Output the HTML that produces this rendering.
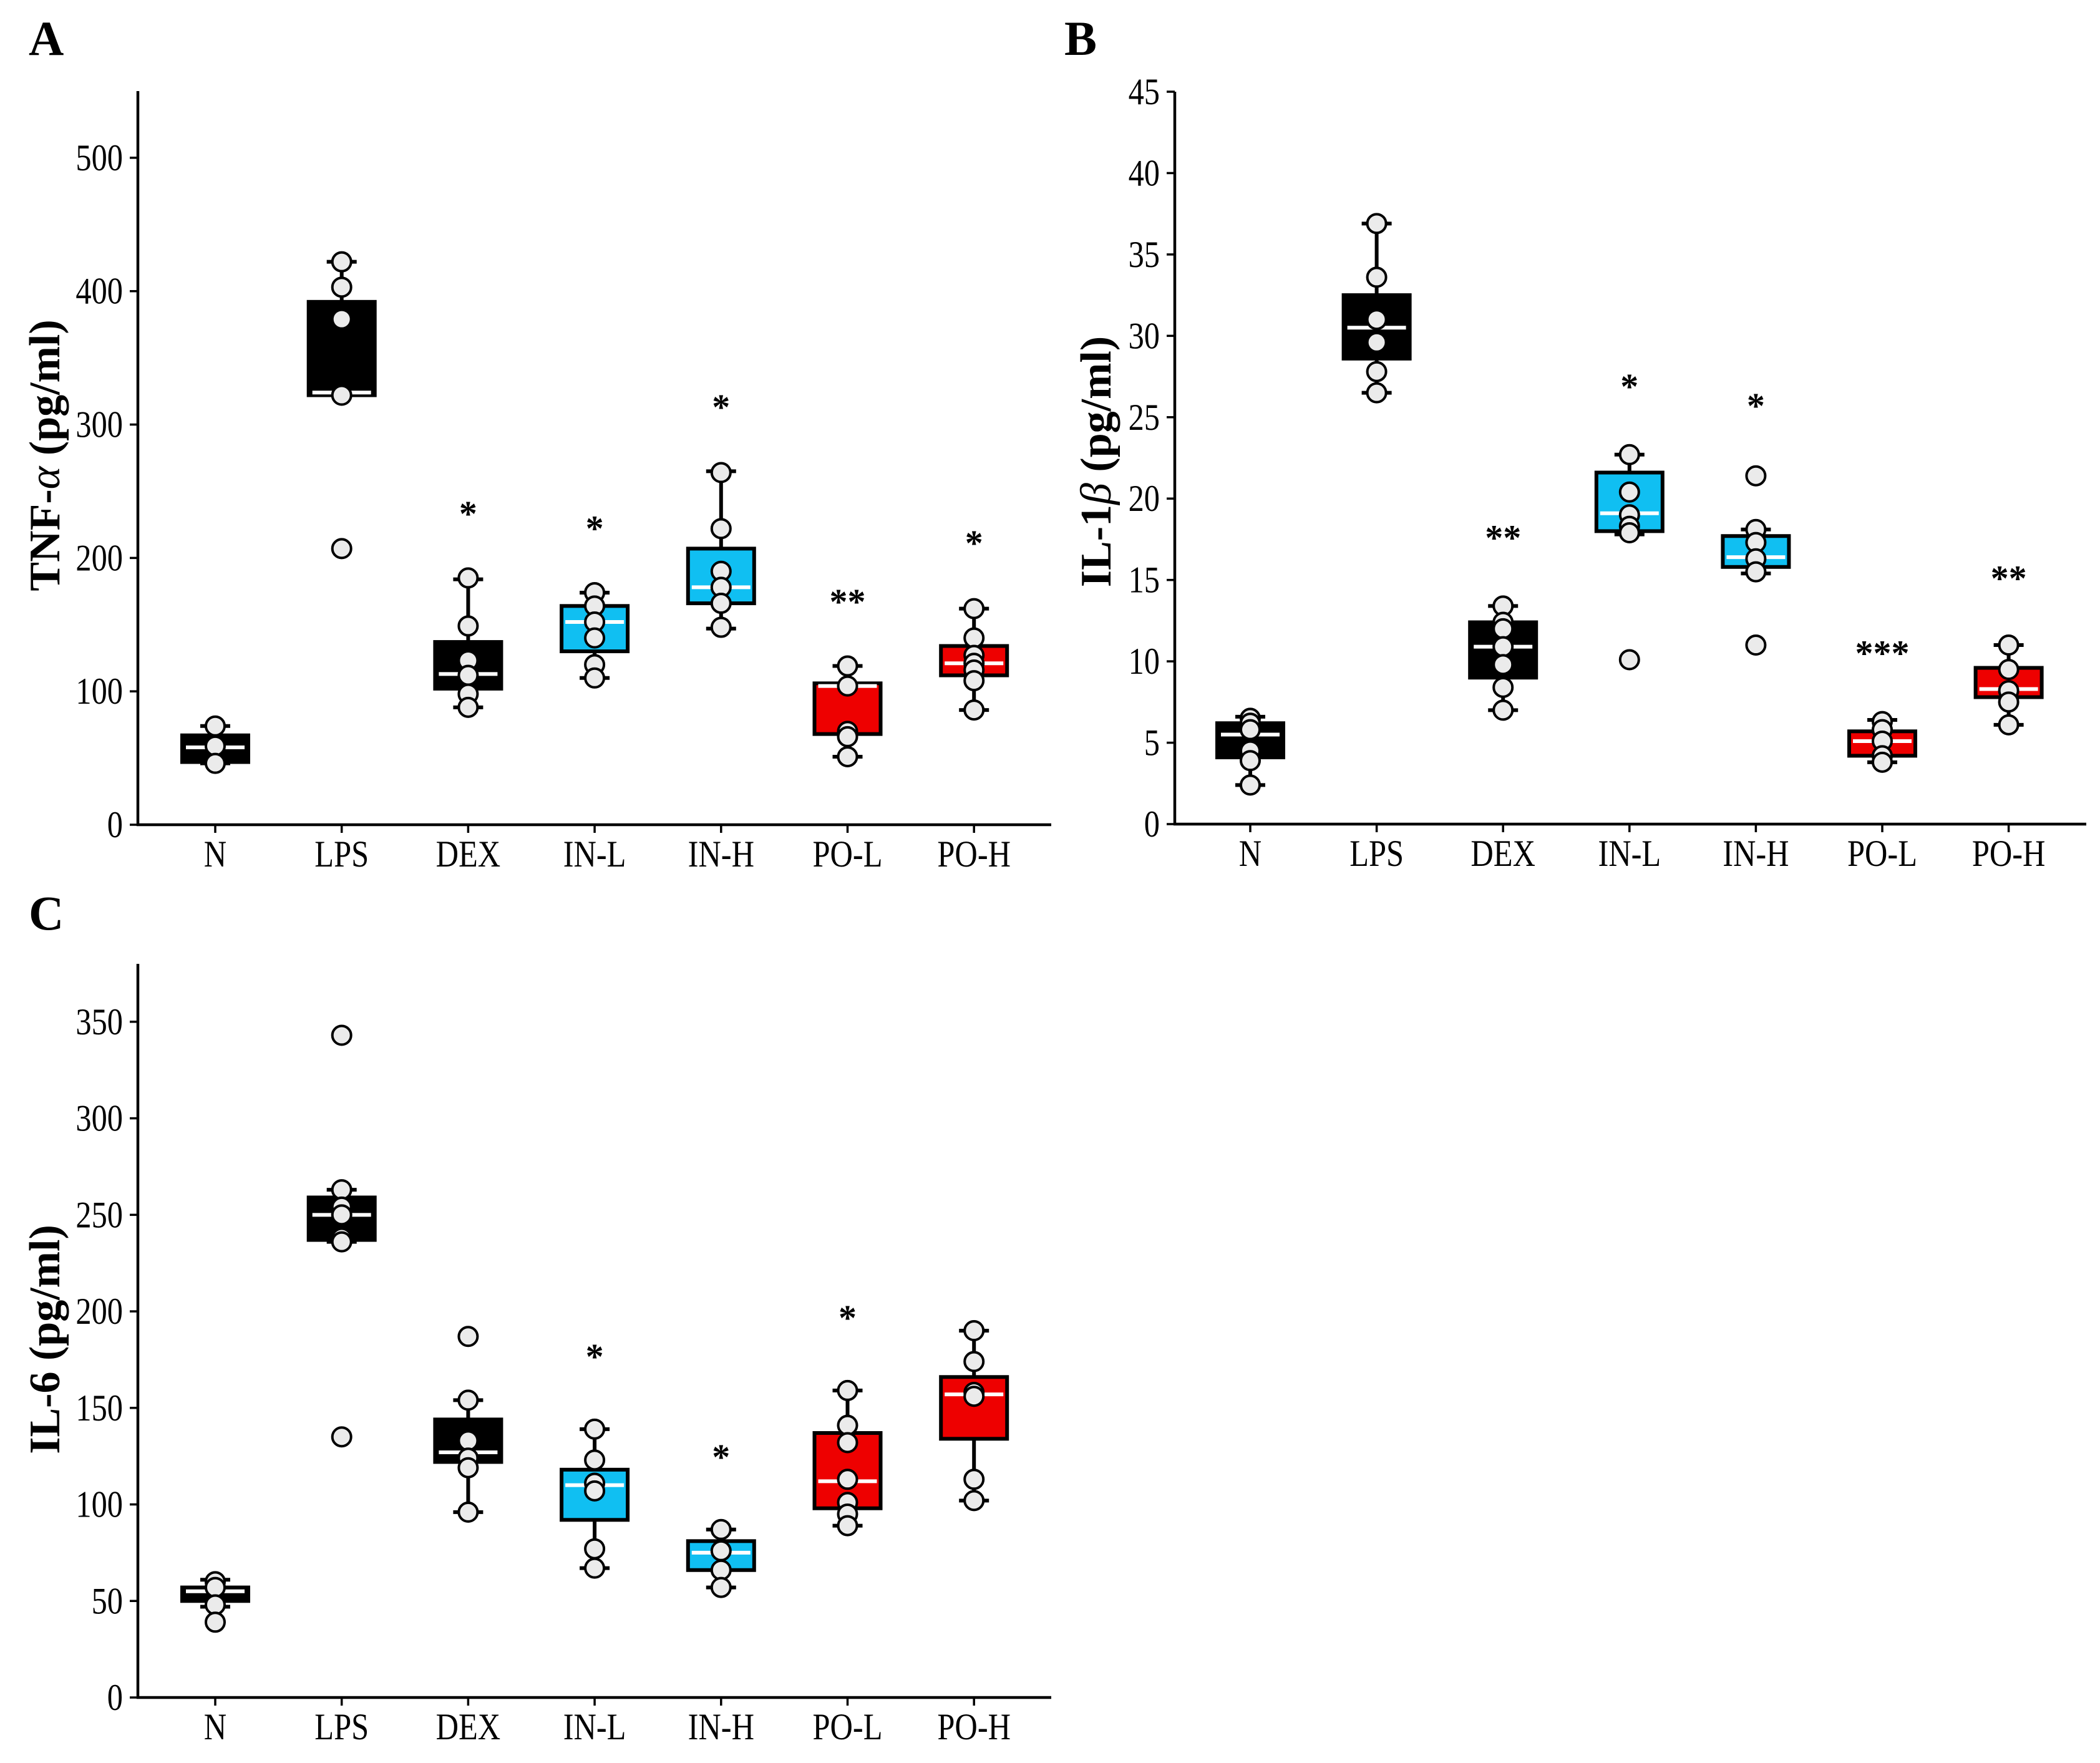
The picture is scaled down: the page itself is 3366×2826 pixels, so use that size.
<!DOCTYPE html>
<html><head><meta charset="utf-8">
<style>
html,body{margin:0;padding:0;background:#fff;}
svg{display:block;}
text{font-family:"Liberation Serif",serif;}
</style></head>
<body>
<svg id="fig" width="3366" height="2826" viewBox="0 0 3366 2826" xmlns="http://www.w3.org/2000/svg"></svg>
<script>
const categories = ["N","LPS","DEX","IN-L","IN-H","PO-L","PO-H"];
const colors = ["#000000","#000000","#000000","#10bff2","#10bff2","#ee0000","#ee0000"];

// Panel A: TNF-alpha  [lo, q1, median, q3, hi]
const tnfBoxes = [[46,47,58,67,74],[322,322,324,392,422],[88,102,113,137,184],[110,130,152,164,174],[147,166,178,207,265],[51,68,104,106,119],[86,112,121,134,162]];
const tnfPoints = [[74,59,46],[422,403,379,322,207],[185,149,123,112,98,88],[174,164,152,140,120,110],[264,222,190,178,166,148],[119,104,70,66,51],[162,140,127,121,116,108,86]];
const tnfStars = ["","","*","*","*","**","*"];
const tnfStarY = [0,0,238,227,318,172,216];
const tnfTicks = [0,100,200,300,400,500];

// Panel B: IL-1beta
const il1Boxes = [[2.4,4.1,5.5,6.2,6.6],[26.5,28.6,30.5,32.5,36.9],[7.0,9.0,10.9,12.4,13.4],[17.8,18.0,19.1,21.6,22.7],[15.4,15.8,16.4,17.7,18.1],[3.8,4.2,5.1,5.7,6.4],[6.1,7.8,8.3,9.6,11.0]];
const il1Points = [[6.5,6.2,5.8,4.5,3.9,2.4],[36.9,33.6,31.0,29.6,27.8,26.5],[13.4,12.4,12.0,10.9,9.8,8.4,7.0],[22.7,20.4,19.0,18.3,17.9,10.1],[21.4,18.1,17.3,16.3,15.5,11.0],[6.3,5.8,5.1,4.2,3.8],[11.0,9.5,8.2,7.5,6.1]];
const il1Stars = ["","","**","*","*","***","**"];
const il1StarY = [0,0,18.0,27.3,26.1,10.9,15.5];
const il1Ticks = [0,5,10,15,20,25,30,35,40,45];

// Panel C: IL-6
const il6Boxes = [[47,50,55,57,61],[236,237,250,259,263],[96,122,127,144,154],[67,92,110,118,139],[57,66,75,81,87],[89,98,112,137,159],[102,134,157,166,190]];
const il6Points = [[60,57,48,39],[343,263,254,250,238,236,135],[187,154,133,124,119,96],[139,123,111,107,77,67],[87,76,66,57],[159,141,132,113,101,95,89],[190,174,158,156,113,102]];
const il6Stars = ["","","","*","*","*",""];
const il6StarY = [0,0,0,180,128,200,0];
const il6Ticks = [0,50,100,150,200,250,300,350];

const NS = "http://www.w3.org/2000/svg";
const svg = document.getElementById("fig");
function mk(tag, attrs, parent){
  const e = document.createElementNS(NS, tag);
  for (const k in attrs) e.setAttribute(k, attrs[k]);
  (parent||svg).appendChild(e);
  return e;
}

function panel(cfg){
  const g = mk("g", {});
  
  
  const {x0,x1,y0,yTop,yMax,firstX,step} = cfg;
  const ys = v => y0 - v/yMax*(y0-yTop);
  const xs = i => firstX + i*step;
  const ya = mk("line",{x1:x0,y1:yTop,x2:x0,y2:y0+2,stroke:"#000","stroke-width":4.5},g);
  
  
  const xa = mk("line",{x1:x0-2,y1:y0,x2:x1,y2:y0,stroke:"#000","stroke-width":4.5},g);
  
  
  cfg.ticks.forEach(t=>{
    const y = ys(t);
    mk("line",{x1:x0-13,y1:y,x2:x0,y2:y,stroke:"#000","stroke-width":3.5},g);
    const tl = mk("text",{transform:`translate(${x0-24},${y+20}) scale(0.84,1)`,"text-anchor":"end","font-size":60},g);
    tl.textContent = t;
    
    
  });
  categories.forEach((c,i)=>{
    const x = xs(i);
    mk("line",{x1:x,y1:y0,x2:x,y2:y0+13,stroke:"#000","stroke-width":3.5},g);
    const cl = mk("text",{transform:`translate(${x},${y0+67}) scale(0.84,1)`,"text-anchor":"middle","font-size":60},g);
    cl.textContent = c;
    
    
  });
  const tt = mk("text",{transform:`translate(${cfg.titleX},${cfg.titleY}) rotate(-90)`,"text-anchor":"middle","font-size":70,"font-weight":"bold"},g);
  
  
  cfg.title.forEach(p=>{
    const s = mk("tspan",{},tt);
    if (p[1]) { s.setAttribute("font-style","italic"); s.setAttribute("font-weight","normal"); }
    s.textContent = p[0];
  });
  const pl = mk("text",{x:cfg.letterX,y:cfg.letterY,"font-size":78,"font-weight":"bold"},g);
  pl.textContent = cfg.letter;
  
  
  const hw = 53, cw = 24;
  cfg.boxes.forEach((b,i)=>{
    const x = xs(i);
    const bg = mk("g",{},g);
    
    
    const [lo,q1,md,q3,hi] = b;
    mk("line",{x1:x,y1:ys(hi),x2:x,y2:ys(q3),stroke:"#000","stroke-width":6},bg);
    mk("line",{x1:x,y1:ys(q1),x2:x,y2:ys(lo),stroke:"#000","stroke-width":6},bg);
    mk("line",{x1:x-cw,y1:ys(hi),x2:x+cw,y2:ys(hi),stroke:"#000","stroke-width":6},bg);
    mk("line",{x1:x-cw,y1:ys(lo),x2:x+cw,y2:ys(lo),stroke:"#000","stroke-width":6},bg);
    mk("rect",{x:x-hw,y:ys(q3),width:2*hw,height:Math.max(2,ys(q1)-ys(q3)),fill:colors[i],stroke:"#000","stroke-width":6},bg);
    mk("line",{x1:x-hw+6,y1:ys(md),x2:x+hw-6,y2:ys(md),stroke:"#fff","stroke-width":6},bg);
    cfg.points[i].forEach(v=>{
      const c = mk("circle",{cx:x,cy:ys(v),r:15,fill:"#ebebeb",stroke:"#000","stroke-width":4},bg);
      
      
    });
    if (cfg.stars[i]) {
      const st = mk("text",{x:x,y:ys(cfg.starY[i])+30,"text-anchor":"middle","font-size":58,"font-weight":"bold"},bg);
      st.textContent = cfg.stars[i];
      
      
    }
  });
}

panel({name:"panel-a-tnf",x0:221,x1:1685,y0:1322,yTop:146,yMax:550,firstX:345,step:202.7,
  ticks:tnfTicks,boxes:tnfBoxes,points:tnfPoints,stars:tnfStars,starY:tnfStarY,
  title:[["TNF-",0],["α",1],[" (pg/ml)",0]],titleX:95,titleY:730,letter:"A",letterX:46,letterY:88});
panel({name:"panel-b-il1b",x0:1883,x1:3344,y0:1321,yTop:147,yMax:45,firstX:2004,step:202.6,
  ticks:il1Ticks,boxes:il1Boxes,points:il1Points,stars:il1Stars,starY:il1StarY,
  title:[["IL-1",0],["β",1],[" (pg/ml)",0]],titleX:1780,titleY:740,letter:"B",letterX:1706,letterY:88});
panel({name:"panel-c-il6",x0:221,x1:1685,y0:2721,yTop:1545,yMax:380,firstX:345,step:202.7,
  ticks:il6Ticks,boxes:il6Boxes,points:il6Points,stars:il6Stars,starY:il6StarY,
  title:[["IL-6 (pg/ml)",0]],titleX:95,titleY:2147,letter:"C",letterX:46,letterY:1490});
</script>
</body></html>
